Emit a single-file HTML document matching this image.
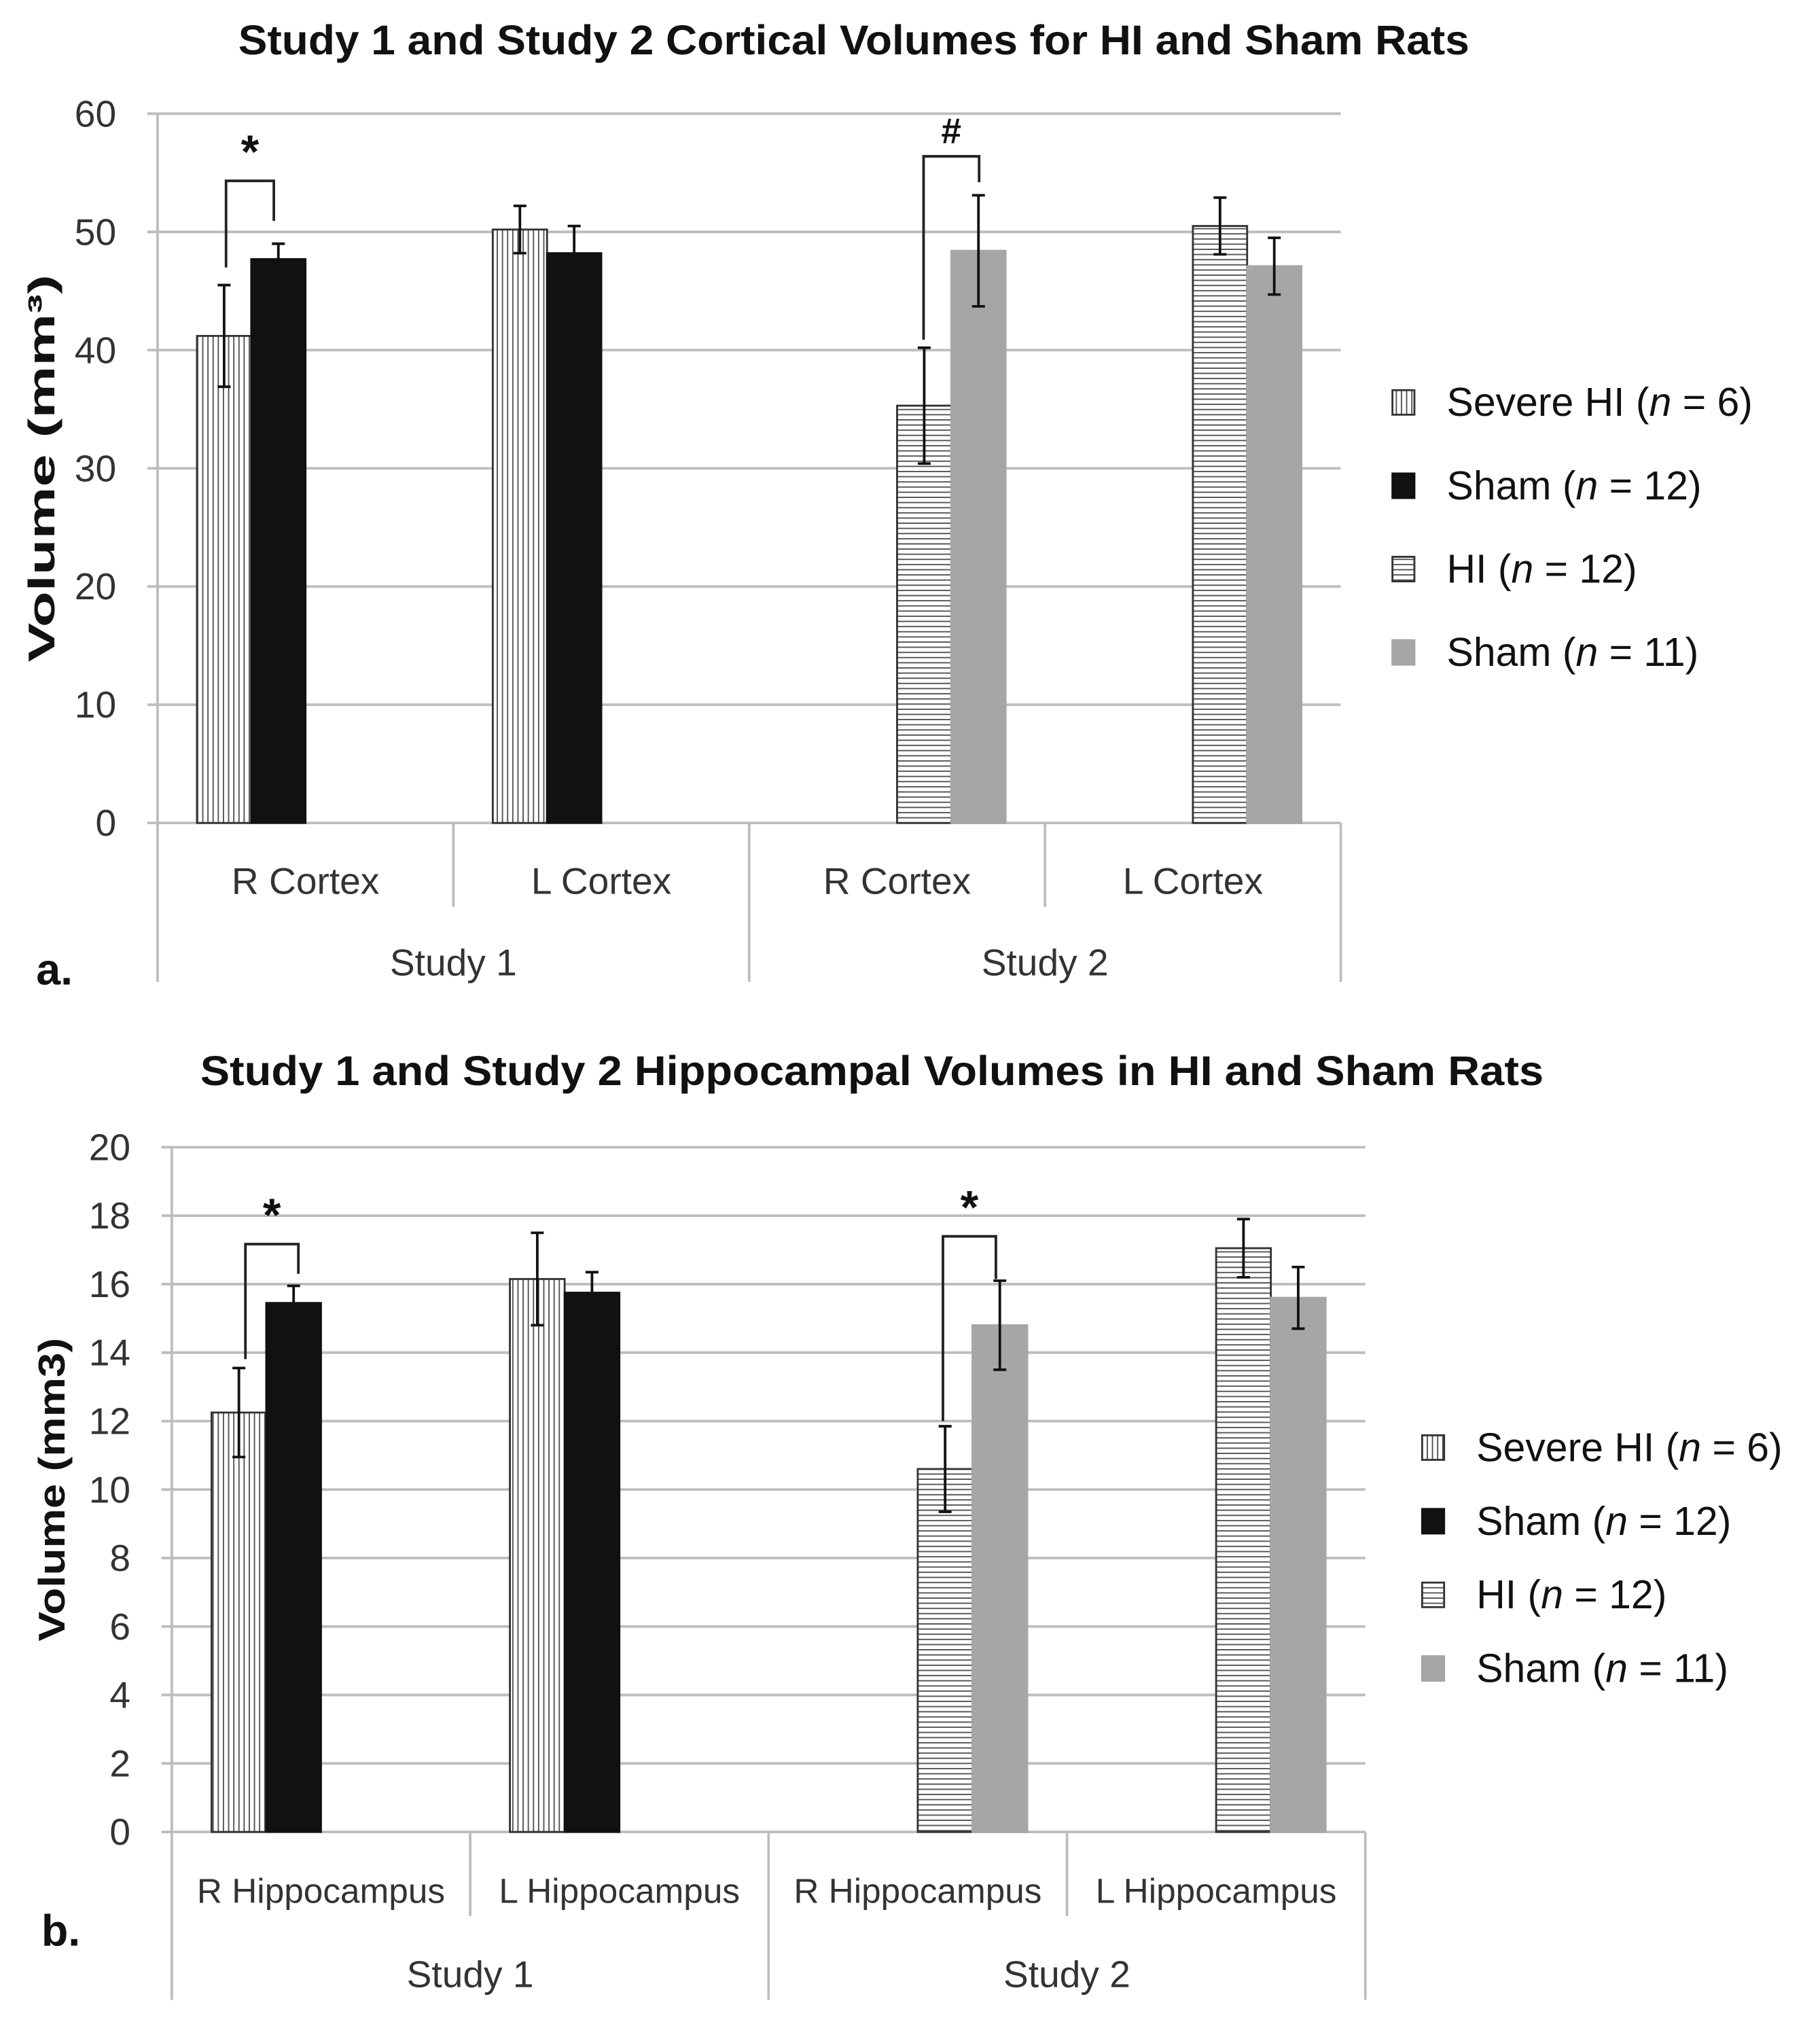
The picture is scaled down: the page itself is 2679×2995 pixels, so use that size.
<!DOCTYPE html>
<html><head><meta charset="utf-8"><style>
html,body{margin:0;padding:0;background:#fff;}
svg{display:block;font-family:"Liberation Sans",sans-serif;}
</style></head><body>
<svg id="svg" width="2679" height="2995" viewBox="0 0 1409 1575.2" xmlns="http://www.w3.org/2000/svg">
<defs>
<pattern id="vstripe" width="4" height="4" patternUnits="userSpaceOnUse"><rect width="4" height="4" fill="#fff"/><line x1="1" y1="0" x2="1" y2="4" stroke="#555" stroke-width="1"/></pattern>
<pattern id="hstripe" width="4" height="4" patternUnits="userSpaceOnUse"><rect width="4" height="4" fill="#fff"/><line x1="0" y1="1" x2="4" y2="1" stroke="#555" stroke-width="1"/></pattern>
</defs>
<g id="chartA"></g>
<g id="chartB"></g>
</svg>
<script>
const catsA = ["R Cortex","L Cortex","R Cortex","L Cortex"];
const catsB = ["R Hippocampus","L Hippocampus","R Hippocampus","L Hippocampus"];
const studies = ["Study 1","Study 2"];
const seriesNames = ["Severe HI (n = 6)","Sham (n = 12)","HI (n = 12)","Sham (n = 11)"];
// values per series per category (null = no bar)
const severeA = [41.2, 50.2, null, null];
const severeErrA = [4.3, 2.0, null, null];
const shamA = [47.7, 48.2, null, null];
const shamErrA = [1.3, 2.3, null, null];
const hiA = [null, null, 35.3, 50.5];
const hiErrA = [null, null, 4.9, 2.4];
const sham2A = [null, null, 48.4, 47.1];
const sham2ErrA = [null, null, 4.7, 2.4];
const ticksA = [0,10,20,30,40,50,60];
const severeB = [12.25, 16.15, null, null];
const severeErrB = [1.3, 1.35, null, null];
const shamB = [15.45, 15.75, null, null];
const shamErrB = [0.5, 0.6, null, null];
const hiB = [null, null, 10.6, 17.05];
const hiErrB = [null, null, 1.25, 0.85];
const sham2B = [null, null, 14.8, 15.6];
const sham2ErrB = [null, null, 1.3, 0.9];
const ticksB = [0,2,4,6,8,10,12,14,16,18,20];

const NS="http://www.w3.org/2000/svg";
function mk(parent,tag,attrs,text){const e=document.createElementNS(NS,tag);for(const k in attrs)e.setAttribute(k,attrs[k]);if(text!==undefined)e.textContent=text;parent.appendChild(e);return e;}

function draw(g,cfg){
  const {L,R,T,B,max,ticks,cats,series,errs,title,titleX,titleY,ylab,ylabX,catY,studyY,bottom,legX,legY,legGap,panel,panelX,panelY,brackets,catFont}=cfg;
  const y=v=>B-(v/max)*(B-T);
  const cw=(R-L)/cats.length;
  const bw=cw*0.1834;
  const t=mk(g,'text',{x:titleX,y:titleY,'text-anchor':'middle','font-size':32,'font-weight':'bold',fill:'#111',textLength:cfg.titleLen,lengthAdjust:'spacingAndGlyphs'},title);
  
  
  ticks.forEach(v=>{
    const gl=mk(g,'line',{x1:L-8,x2:R,y1:y(v),y2:y(v),stroke:'#bdbdbd','stroke-width':2});
    
    
    const tl=mk(g,'text',{x:L-32,y:y(v)+10,'text-anchor':'end','font-size':29,fill:'#333'},String(v));
    
    
  });
  mk(g,'line',{x1:L,x2:L,y1:T,y2:bottom,stroke:'#bdbdbd','stroke-width':2});
  for(let i=1;i<cats.length;i++){
    const x=L+i*cw, long=(i===cats.length/2);
    mk(g,'line',{x1:x,x2:x,y1:B,y2:long?bottom:B+65,stroke:'#bdbdbd','stroke-width':2});
  }
  mk(g,'line',{x1:R,x2:R,y1:B,y2:bottom,stroke:'#bdbdbd','stroke-width':2});
  cats.forEach((c,i)=>{
    const cl=mk(g,'text',{x:L+(i+0.5)*cw,y:catY,'text-anchor':'middle','font-size':catFont,fill:'#333'},c);
    
    
  });
  studies.forEach((s,i)=>{
    const sl=mk(g,'text',{x:L+(i+0.5)*(R-L)/2,y:studyY,'text-anchor':'middle','font-size':29,fill:'#333'},s);
    
    
  });
  const fills=['url(#vstripe)','#111','url(#hstripe)','#a6a6a6'];
  const strokes=['#333','#111','#333','#a6a6a6'];
  series.forEach((vals,si)=>{
    vals.forEach((v,ci)=>{
      if(v===null)return;
      const x=L+ci*cw+(cw-4*bw)/2+si*bw;
      const r=mk(g,'rect',{x:x,y:y(v),width:bw,height:B-y(v),fill:fills[si],stroke:strokes[si],'stroke-width':1.5});
      
      
      const e=errs[si][ci], cx=x+bw/2;
      const eb=mk(g,'path',{d:`M${cx} ${y(v+e)}V${y(v-e)}M${cx-5} ${y(v+e)}H${cx+5}M${cx-5} ${y(v-e)}H${cx+5}`,stroke:'#111','stroke-width':2,fill:'none'});
      
      
    });
  });
  brackets.forEach(b=>{
    const p=mk(g,'path',{d:`M${b.x1} ${b.y1}V${b.top}H${b.x2}V${b.y2}`,stroke:'#222','stroke-width':2,fill:'none'});
    
    
    const s=mk(g,'text',{x:(b.x1+b.x2)/2,y:b.top-10,'text-anchor':'middle','font-size':b.sym==='#'?28:36,'font-weight':'bold',fill:'#111'},b.sym);
    
    
  });
  const yl=mk(g,'text',{x:0,y:0,transform:`translate(${ylabX},${(T+B)/2}) rotate(-90)`,'text-anchor':'middle','font-size':29,'font-weight':'bold',fill:'#111',textLength:cfg.ylabLen,lengthAdjust:'spacingAndGlyphs'},ylab);
  
  
  const pl=mk(g,'text',{x:panelX,y:panelY,'font-size':34,'font-weight':'bold',fill:'#111'},panel);
  
  
  seriesNames.forEach((n,i)=>{
    const yy=legY+i*legGap;
    const le=mk(g,'g',{});
    
    
    mk(le,'rect',{x:legX,y:yy-20,width:17,height:19,fill:fills[i],stroke:strokes[i],'stroke-width':1.5});
    const parts=n.match(/^(.*\()n( = \d+\))$/);
    const tx=mk(le,'text',{x:legX+42,y:yy,'font-size':31,fill:'#111'});
    mk(tx,'tspan',{},parts[1]);mk(tx,'tspan',{'font-style':'italic'},'n');mk(tx,'tspan',{},parts[2]);
  });
}
draw(document.getElementById('chartA'),{L:122,R:1038,T:88,B:637,max:60,ticks:ticksA,cats:catsA,
  series:[severeA,shamA,hiA,sham2A],errs:[severeErrA,shamErrA,hiErrA,sham2ErrA],
  title:"Study 1 and Study 2 Cortical  Volumes for HI and Sham Rats",titleX:661,titleY:42,titleLen:953,ylab:"Volume (mm³)",ylabX:42,ylabLen:300,
  catY:692,studyY:755,bottom:760,legX:1078,legY:322,legGap:64.5,panel:"a.",panelX:28,panelY:762,catFont:29,
  brackets:[{x1:175,y1:207,top:140,x2:212,y2:171,sym:'*'},{x1:715,y1:263,top:121,x2:758,y2:141,sym:'#'}]});
draw(document.getElementById('chartB'),{L:133,R:1057,T:888,B:1418,max:20,ticks:ticksB,cats:catsB,
  series:[severeB,shamB,hiB,sham2B],errs:[severeErrB,shamErrB,hiErrB,sham2ErrB],
  title:"Study 1 and Study 2 Hippocampal Volumes in  HI and Sham Rats",titleX:675,titleY:840,titleLen:1040,ylab:"Volume (mm3)",ylabX:50,ylabLen:235,
  catY:1473,studyY:1538,bottom:1548,legX:1101,legY:1131,legGap:57,panel:"b.",panelX:32,panelY:1506,catFont:27,
  brackets:[{x1:190,y1:1052,top:963,x2:231,y2:986,sym:'*'},{x1:730,y1:1100,top:957,x2:771,y2:990,sym:'*'}]});
</script>
</body></html>
